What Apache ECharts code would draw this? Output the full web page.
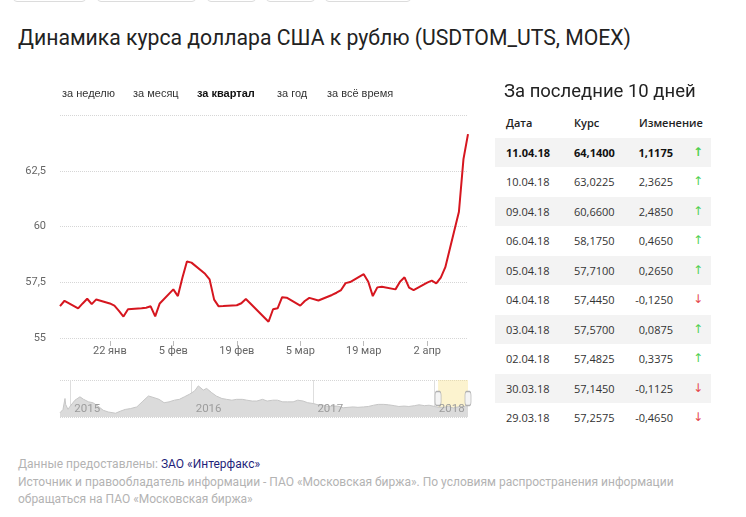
<!DOCTYPE html>
<html><head><meta charset="utf-8">
<script src="https://cdn.jsdelivr.net/npm/echarts@6/dist/echarts.min.js"></script>
<style>
html,body{margin:0;padding:0;background:#fff;}
body{width:746px;height:517px;position:relative;overflow:hidden;font-family:Roboto,"Noto Sans",sans-serif;color:#222;}
.btn{position:absolute;top:-27px;height:29px;border:1px solid #dcdcdc;border-radius:4px;box-sizing:border-box;}
#title{position:absolute;left:18px;top:25px;font-size:21.2px;line-height:26px;white-space:nowrap;color:#222;}
#chart{position:absolute;left:0;top:0;width:490px;height:440px;}
.tab{position:absolute;top:85px;font-family:"Liberation Sans",Arial,sans-serif;font-size:11px;line-height:16px;color:#333;white-space:nowrap;}
.tab.on{font-weight:bold;color:#111;}
#side{position:absolute;left:504px;top:80px;font-size:18.5px;line-height:22px;color:#222;white-space:nowrap;}
#tbl{position:absolute;left:495px;top:108px;width:216px;font-family:"Open Sans",sans-serif;font-size:11px;color:#333;}
.row{position:relative;height:29.5px;line-height:29.5px;}
.row.sh{background:#f3f3f3;}
.row span{position:absolute;white-space:nowrap;}
.c1{left:11px;} .c2{left:79px;} .c3{right:38px;text-align:right;} .c4{left:198px;font-family:"DejaVu Sans",sans-serif;font-size:12px;}
.hd{font-weight:600;color:#222;}
.b{font-weight:bold;color:#111;}
#foot{position:absolute;left:18px;top:456px;font-size:12px;line-height:17.5px;color:#b3b3b3;white-space:nowrap;}
#foot a{color:#1f1f7a;text-decoration:none;}
</style>
</head><body>
<div class="btn" style="left:13px;width:73px"></div>
<div class="btn" style="left:97px;width:99px"></div>
<div class="btn" style="left:207px;width:49px"></div>
<div class="btn" style="left:266px;width:49px"></div>
<div class="btn" style="left:325px;width:86px"></div>
<div id="title">Динамика курса доллара США к рублю (USDTOM_UTS, MOEX)</div>
<div id="chart"></div>
<div class="tab" style="left:62px">за неделю</div>
<div class="tab" style="left:133px">за месяц</div>
<div class="tab on" style="left:197px">за квартал</div>
<div class="tab" style="left:277px">за год</div>
<div class="tab" style="left:327px">за всё время</div>
<div id="side">За последние 10 дней</div>
<div id="tbl"></div>
<div id="foot">Данные предоставлены: <a>ЗАО «Интерфакс»</a><br>Источник и правообладатель информации - ПАО «Московская биржа». По условиям распространения информации<br>обращаться на ПАО «Московская биржа»</div>
<script>
// ---- data ----
const dates = ['2018-01-11','2018-01-12','2018-01-15','2018-01-16','2018-01-17','2018-01-18','2018-01-19',
'2018-01-22','2018-01-23','2018-01-24','2018-01-25','2018-01-26','2018-01-29','2018-01-30','2018-01-31',
'2018-02-01','2018-02-02','2018-02-05','2018-02-06','2018-02-07','2018-02-08','2018-02-09','2018-02-12',
'2018-02-13','2018-02-14','2018-02-15','2018-02-16','2018-02-19','2018-02-20','2018-02-21','2018-02-22',
'2018-02-26','2018-02-27','2018-02-28','2018-03-01','2018-03-02','2018-03-05','2018-03-06','2018-03-07',
'2018-03-09','2018-03-12','2018-03-13','2018-03-14','2018-03-15','2018-03-16','2018-03-19','2018-03-20',
'2018-03-21','2018-03-22','2018-03-23','2018-03-26','2018-03-27','2018-03-28','2018-03-29','2018-03-30',
'2018-04-02','2018-04-03','2018-04-04','2018-04-05','2018-04-06','2018-04-09','2018-04-10','2018-04-11'];
const rates = [56.43,56.67,56.33,56.55,56.76,56.52,56.73,
56.55,56.45,56.22,55.96,56.29,56.33,56.36,56.42,
55.97,56.55,57.18,56.88,57.70,58.43,58.38,57.88,
57.63,56.72,56.42,56.43,56.47,56.56,56.75,56.55,
55.73,56.29,56.33,56.83,56.81,56.45,56.66,56.80,
56.68,56.93,57.03,57.15,57.46,57.51,57.86,57.52,
56.88,57.27,57.30,57.18,57.52,57.7225,57.2575,57.145,
57.4825,57.57,57.445,57.71,58.175,60.66,63.0225,64.14];
const tickDates = ['2018-01-22','2018-02-05','2018-02-19','2018-03-05','2018-03-19','2018-04-02'];
const tickLabels = ['22 янв','5 фев','19 фев','5 мар','19 мар','2 апр'];
const histDates = ['2014-12-01','2014-12-10','2014-12-16','2014-12-18','2014-12-25','2014-12-30',
'2015-01-15','2015-01-30','2015-02-10','2015-02-25','2015-03-10','2015-03-25','2015-04-10','2015-04-25',
'2015-05-17','2015-06-01','2015-06-15','2015-07-01','2015-07-20','2015-08-05','2015-08-24','2015-09-10',
'2015-09-25','2015-10-10','2015-10-25','2015-11-10','2015-11-25','2015-12-10','2015-12-25','2016-01-10',
'2016-01-21','2016-02-05','2016-02-15','2016-03-01','2016-03-15','2016-04-01','2016-04-15','2016-05-01',
'2016-05-15','2016-06-01','2016-06-15','2016-07-01','2016-07-15','2016-08-01','2016-08-15','2016-09-01',
'2016-09-15','2016-10-01','2016-10-15','2016-11-01','2016-11-15','2016-12-01','2016-12-15','2017-01-01',
'2017-01-15','2017-02-01','2017-02-15','2017-03-01','2017-03-15','2017-04-01','2017-04-15','2017-05-01',
'2017-05-15','2017-06-01','2017-06-15','2017-07-01','2017-07-15','2017-08-01','2017-08-15','2017-09-01',
'2017-09-15','2017-10-01','2017-10-15','2017-11-01','2017-11-15','2017-12-01','2017-12-15','2018-01-01'];
const histValues = [50,54,67,60,54,57,
65,69,66,63,62,58,53,51,
49.5,52,54,55,57,63,70,68,
66,62,63,65,66,69,72,76,
82,77,79,74,70,67,66,65,
66,66,65,64,64,66,64,65,
65,63,63,63,65,64,62,61,
59.5,59,57.5,58,58,56,56.5,57,
56.5,57,57.5,59,60,60,59.5,58.5,
57.5,58,57.5,58.5,59.5,58.5,59,57.5];
const yearDates = ['2015-01-01','2016-01-01','2017-01-01','2018-01-01'];
const yTicks = {min:55, max:65, step:2.5};

// ---- helpers ----
function ts(s){const p=s.split('-').map(Number);return new Date(p[0],p[1]-1,p[2]).getTime();}
const tickTs = tickDates.map(ts);
const yearTs = yearDates.map(ts);
const mainData = dates.map((d,i)=>[ts(d),rates[i]]);
const miniData = histDates.map((d,i)=>[ts(d),histValues[i]]).concat(mainData);
const miniMin = 45, miniMax = 89;
const miniX0 = ts(histDates[0]), miniX1 = ts(dates[dates.length-1]);

// ---- table ----
(function(){
  const tbl=document.getElementById('tbl');
  let h='<div class="row hd"><span class="c1">Дата</span><span class="c2">Курс</span><span class="c3" style="right:auto;left:144px">Изменение</span></div>';
  const n=dates.length;
  for(let k=0;k<10;k++){
    const i=n-1-k;
    const p=dates[i].split('-');
    const ds=p[2]+'.'+p[1]+'.'+p[0].slice(2);
    const ch=rates[i]-rates[i-1];
    const f=v=>v.toFixed(4).replace('.',',');
    const up=ch>=0;
    const arrow=up?'<span class="c4" style="color:#4fd04f">↑</span>':'<span class="c4" style="color:#e5484d">↓</span>';
    h+='<div class="row'+(k%2===0?' sh':'')+(k===0?' b':'')+'"><span class="c1">'+ds+'</span><span class="c2">'+f(rates[i])+'</span><span class="c3">'+f(ch)+'</span>'+arrow+'</div>';
  }
  tbl.innerHTML=h;
})();

// ---- chart ----
const chart = echarts.init(document.getElementById('chart'), null, {renderer:'canvas'});
chart.setOption({
  animation:false,
  grid:[{left:60,top:115,width:408,height:223},{left:60,top:380,width:408,height:37}],
  xAxis:[{
    type:'value', gridIndex:0, min:ts(dates[0]), max:ts(dates[dates.length-1]),
    offset:3,
    axisLine:{show:false},
    axisTick:{show:true,length:5,customValues:tickTs,lineStyle:{color:'#bbb'}},
    axisLabel:{customValues:tickTs,color:'#666',fontSize:11,fontFamily:'Roboto',margin:5,
      formatter:function(v){const i=tickTs.indexOf(v);return i>=0?tickLabels[i]:'';}},
    splitLine:{show:false}
  },{
    type:'value', gridIndex:1, position:'bottom', min:miniX0, max:miniX1,
    axisLine:{show:false},
    axisTick:{show:false,customValues:yearTs},
    axisLabel:{show:false,customValues:yearTs},
    splitLine:{show:true,lineStyle:{color:'#dedede',width:1}}
  },{
    type:'value', gridIndex:1, position:'bottom', min:miniX0, max:miniX1, z:10,
    axisLine:{show:false},
    axisTick:{show:false,customValues:yearTs},
    axisLabel:{customValues:yearTs,inside:true,margin:2,align:'left',padding:[0,0,0,4],color:'#9c9c9c',fontSize:11.5,fontFamily:'Roboto',
      formatter:function(v){return String(new Date(v).getFullYear());}},
    splitLine:{show:false}
  }],
  yAxis:[{
    type:'value', gridIndex:0, min:yTicks.min, max:yTicks.max, interval:yTicks.step,
    axisLine:{show:false}, axisTick:{show:false},
    axisLabel:{color:'#666',fontSize:11,fontFamily:'Roboto',margin:14,
      formatter:function(v){return v===yTicks.max?'':String(v).replace('.',',');}},
    splitLine:{lineStyle:{type:'dotted',color:'#d6d6d6'}}
  },{
    type:'value', gridIndex:1, min:miniMin, max:miniMax, interval:miniMax-miniMin,
    axisLine:{show:false}, axisTick:{show:false}, axisLabel:{show:false},
    splitLine:{lineStyle:{type:'dotted',color:'#d6d6d6'}}
  }],
  series:[{
    type:'line', xAxisIndex:0, yAxisIndex:0, data:mainData, symbol:'none',
    lineStyle:{color:'#d6161f',width:2}, z:5
  },{
    type:'line', xAxisIndex:1, yAxisIndex:1, data:miniData, symbol:'none',
    lineStyle:{color:'#c6c6c6',width:1}, areaStyle:{color:'#dbdbdb',opacity:1},
    markArea:{silent:true,itemStyle:{color:'rgba(248,226,140,0.42)'},
      data:[[{xAxis:ts(dates[0])},{xAxis:ts(dates[dates.length-1])}]]},
    markPoint:{silent:true,symbol:'roundRect',symbolSize:[6,14],
      itemStyle:{color:'#f4f4f4',borderColor:'#b0b0b0',borderWidth:1},label:{show:false},
      data:[{coord:[ts(dates[0]),(miniMin+miniMax)/2]},{coord:[ts(dates[dates.length-1]),(miniMin+miniMax)/2]}]}
  }]
});
</script>
</body></html>
